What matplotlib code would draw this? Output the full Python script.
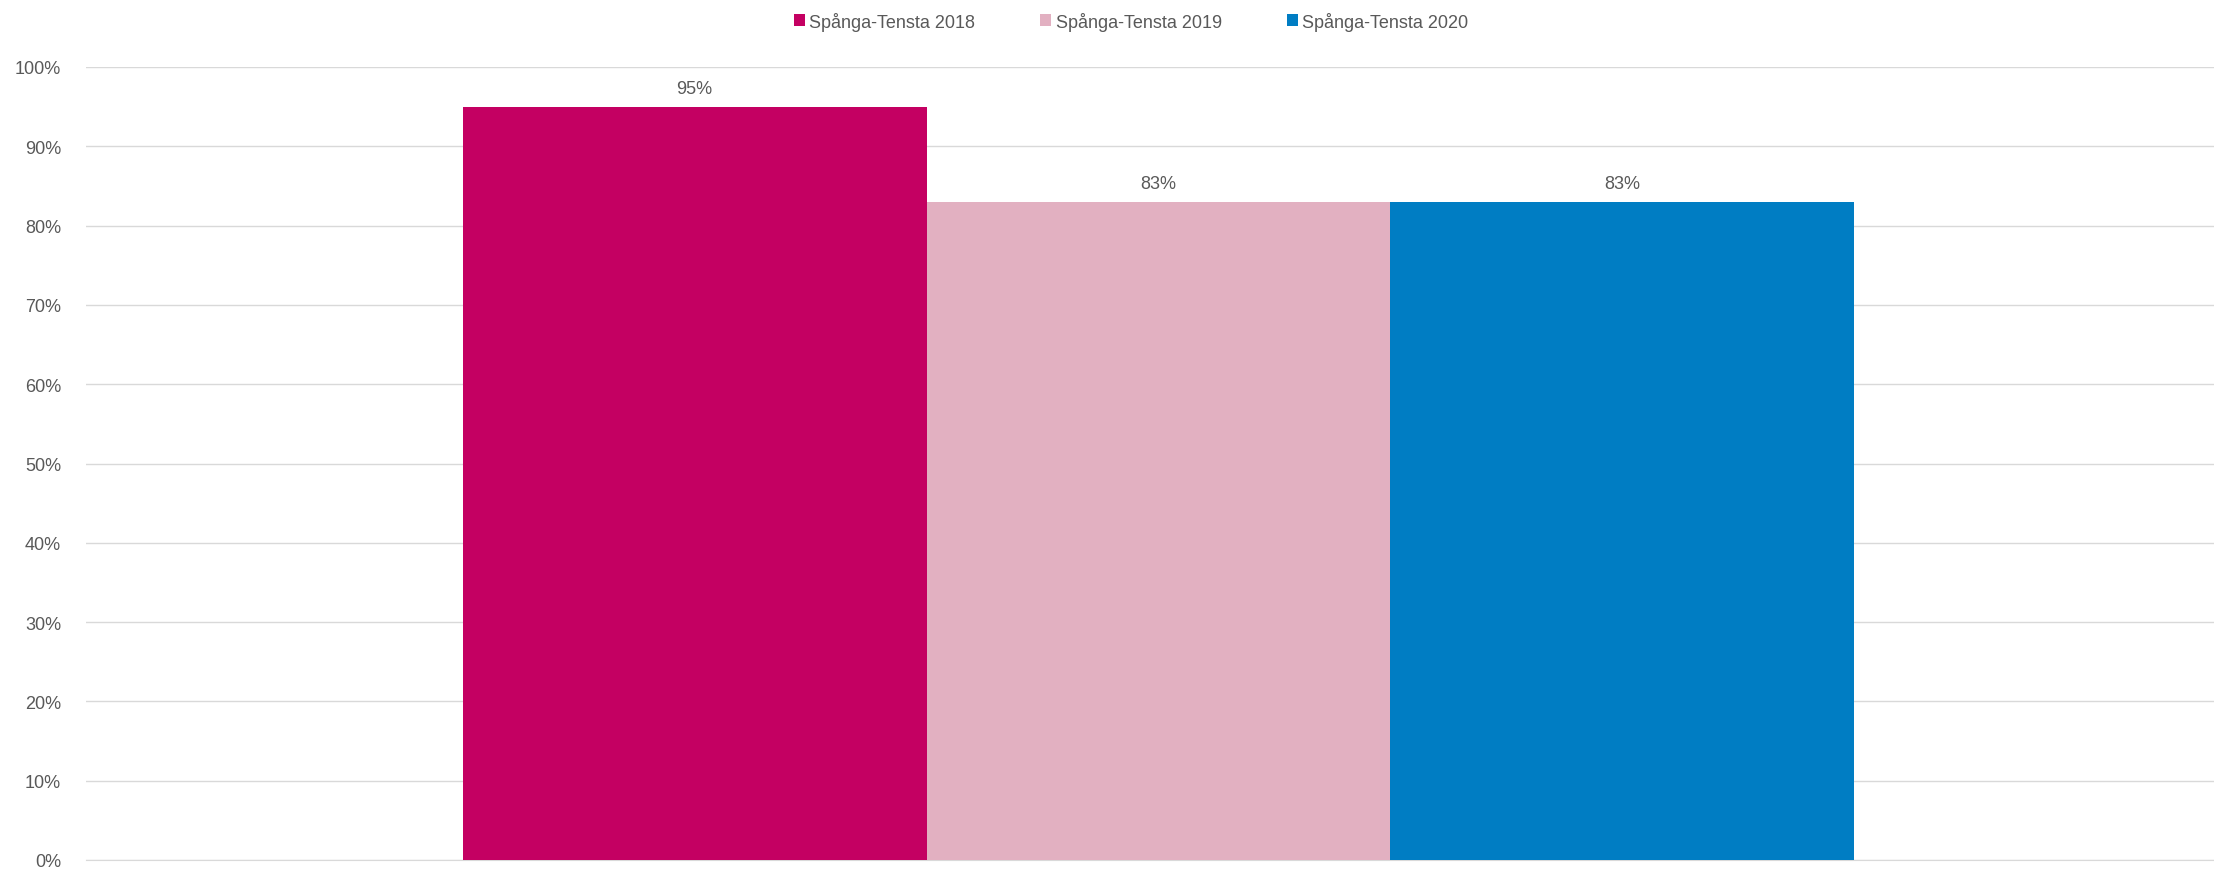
import matplotlib
matplotlib.use("Agg")
import matplotlib.pyplot as plt
from matplotlib.patches import Patch

series = ["Spånga-Tensta 2018", "Spånga-Tensta 2019", "Spånga-Tensta 2020"]
values = [95, 83, 83]
colors = ["#C40062", "#E2B0C1", "#007DC3"]
yticks = [0, 10, 20, 30, 40, 50, 60, 70, 80, 90, 100]

plt.rcParams["font.family"] = ["Liberation Sans", "DejaVu Sans"]
txt = "#595959"
fs = 13

fig = plt.figure(figsize=(22.14, 8.7), dpi=100)
ax = fig.add_axes([86 / 2214, 9 / 870, 2128 / 2214, 793 / 870])

width = 0.218
offsets = [-1, 0, 1]
for off, v, c in zip(offsets, values, colors):
    x = 0.004 + off * width
    ax.bar(x, v, width=width, color=c, zorder=3)
    ax.text(x, v + 1.25, f"{v}%", ha="center", va="bottom", fontsize=fs, color=txt)

ax.set_xlim(-0.5, 0.5)
ax.set_ylim(0, 100)
ax.set_yticks(yticks)
ax.set_yticklabels([f"{t}%" for t in yticks])
ax.set_xticks([])
ax.tick_params(axis="y", length=0, labelsize=fs, labelcolor=txt, pad=18)
ax.grid(axis="y", color="#D9D9D9", linewidth=1, zorder=0)
for s in ["top", "right", "left"]:
    ax.spines[s].set_visible(False)
ax.spines["bottom"].set_color("#D9D9D9")

handles = [Patch(facecolor=c, label=s) for s, c in zip(series, colors)]
fig.legend(handles=handles, loc="center", bbox_to_anchor=(1131 / 2214, 1 - 22 / 870),
           ncol=3, frameon=False, fontsize=fs, labelcolor=txt,
           handlelength=0.6, handleheight=0.6, handletextpad=0.25, columnspacing=3.6)

fig.savefig("out.png", dpi=100)
